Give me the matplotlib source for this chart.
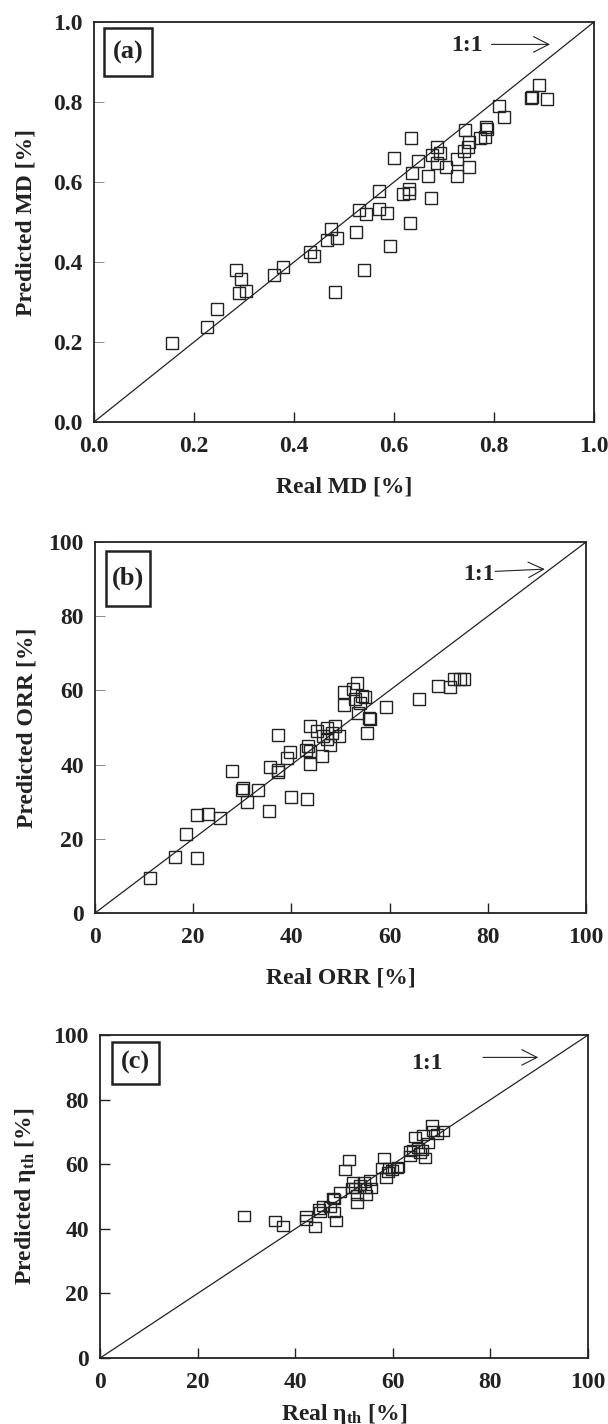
import matplotlib
matplotlib.use("Agg")
import matplotlib.pyplot as plt
from matplotlib.patches import Rectangle
from matplotlib.path import Path

plt.rcParams['font.family'] = ['Liberation Serif', 'DejaVu Serif']
plt.rcParams['font.weight'] = 'bold'
plt.rcParams['mathtext.fontset'] = 'custom'
plt.rcParams['mathtext.rm'] = 'Liberation Serif:bold'
plt.rcParams['mathtext.bf'] = 'Liberation Serif:bold'
plt.rcParams['mathtext.it'] = 'Liberation Serif:bold:italic'

# ---- (a) membrane distillation (MD) ----
md_real = [0.157, 0.225, 0.245, 0.283, 0.293, 0.289, 0.303, 0.360, 0.377, 0.432,
           0.439, 0.473, 0.465, 0.485, 0.481, 0.524, 0.530, 0.544, 0.539, 0.570,
           0.570, 0.585, 0.592, 0.599, 0.633, 0.631, 0.617, 0.630, 0.630, 0.635,
           0.647, 0.667, 0.673, 0.675, 0.685, 0.691, 0.685, 0.704, 0.725, 0.725,
           0.739, 0.741, 0.749, 0.747, 0.750, 0.772, 0.783, 0.785, 0.781, 0.809,
           0.820, 0.876, 0.890, 0.905, 0.874]
md_pred = [0.198, 0.238, 0.282, 0.380, 0.357, 0.322, 0.328, 0.368, 0.388, 0.424,
           0.415, 0.482, 0.455, 0.459, 0.325, 0.476, 0.531, 0.519, 0.380, 0.578,
           0.532, 0.523, 0.440, 0.660, 0.711, 0.498, 0.570, 0.583, 0.572, 0.622,
           0.652, 0.616, 0.559, 0.668, 0.687, 0.672, 0.648, 0.637, 0.616, 0.657,
           0.678, 0.730, 0.701, 0.688, 0.637, 0.709, 0.738, 0.732, 0.713, 0.791,
           0.762, 0.812, 0.843, 0.808, 0.810]

# ---- (b) ORR ----
orr_real = [11.2, 16.2, 20.8, 18.5, 20.8, 23.0, 25.5, 28.0, 30.2, 29.9,
            30.9, 33.1, 35.4, 35.6, 37.2, 37.2, 37.2, 39.2, 39.8, 40.0,
            43.1, 43.8, 43.4, 43.8, 43.8, 43.0, 45.2, 46.3, 47.3, 47.2,
            47.9, 48.9, 49.6, 48.3, 50.7, 50.7, 53.3, 52.6, 54.3, 55.0,
            54.0, 53.5, 55.9, 56.0, 55.3, 59.2, 66.0, 69.8, 72.2, 73.1,
            74.3, 75.2, 46.5, 53.0]
orr_pred = [9.3, 15.2, 14.7, 21.4, 26.4, 26.7, 25.6, 38.2, 33.8, 33.2,
            29.9, 33.2, 27.5, 39.4, 47.9, 37.9, 38.5, 41.8, 43.3, 31.4,
            30.7, 50.3, 45.0, 43.7, 40.3, 44.0, 49.1, 42.2, 50.0, 46.8,
            45.2, 50.4, 47.7, 48.6, 59.6, 56.2, 62.0, 60.3, 58.5, 58.3,
            56.7, 54.0, 52.7, 52.3, 48.4, 55.6, 57.6, 61.2, 60.8, 63.0,
            63.0, 63.0, 47.8, 57.6]

# ---- (c) thermal efficiency ----
eta_real = [29.6, 35.9, 37.5, 42.2, 42.2, 44.1, 44.8, 45.1, 45.6, 47.1,
            48.0, 48.4, 47.7, 48.0, 49.2, 50.2, 51.0, 51.9, 52.2, 52.6,
            52.6, 54.0, 54.3, 54.6, 55.3, 55.5, 53.3, 58.1, 57.8, 58.6,
            59.1, 59.8, 60.8, 61.1, 63.5, 64.1, 64.5, 65.2, 65.9, 66.6,
            66.2, 67.3, 68.1, 68.3, 69.0, 70.3, 63.5, 65.6, 51.6, 59.3]
eta_pred = [44.0, 42.5, 40.8, 44.1, 42.6, 40.6, 46.3, 45.1, 47.2, 46.7,
            45.1, 42.5, 49.5, 49.2, 51.4, 58.1, 61.4, 54.4, 52.6, 50.5,
            48.0, 54.6, 52.6, 50.5, 55.2, 52.6, 53.6, 61.8, 59.0, 55.7,
            57.7, 58.2, 59.0, 59.3, 62.6, 64.4, 68.5, 65.0, 64.4, 61.8,
            69.0, 66.5, 72.1, 70.4, 69.3, 70.4, 64.0, 63.6, 52.6, 58.9]

md_ticks = [0.0, 0.2, 0.4, 0.6, 0.8, 1.0]
pct_ticks = [0, 20, 40, 60, 80, 100]

INK = '#222222'
FS = 17

fig = plt.figure(figsize=(6.08, 14.24), dpi=100)

flat_box = Path([(-0.5, -0.39), (0.5, -0.39), (0.5, 0.39), (-0.5, 0.39), (-0.5, -0.39)],
                [Path.MOVETO, Path.LINETO, Path.LINETO, Path.LINETO, Path.CLOSEPOLY])

panels = [
    dict(rect=[0.1546, 0.70365, 0.8224, 0.2809], x=md_real, y=md_pred, lim=1.0,
         ticks=md_ticks, fmt='{:.1f}', xlabel='Real MD [%]', ylabel='Predicted MD [%]',
         tag='(a)', box=(0.0206, 0.865, 0.0948, 0.121), tagpos=(0.068, 0.925),
         txt=(0.745, 0.9425), arr=((0.795, 0.944), (0.912, 0.944)),
         marker='s', ytick_style=dict(width=0.6, color='#777777'),
         xlab_y=-0.135, ylab_x=-0.114),
    dict(rect=[0.15625, 0.35885, 0.8076, 0.2605], x=orr_real, y=orr_pred, lim=100,
         ticks=pct_ticks, fmt='{:d}', xlabel='Real ORR [%]', ylabel='Predicted ORR [%]',
         tag='(b)', box=(0.0218, 0.828, 0.0902, 0.148), tagpos=(0.0668, 0.902),
         txt=(78.1, 91.3), arr=((81.5, 92.1), (91.6, 92.7)),
         marker='s', ytick_style=dict(width=0.6, color='#777777'),
         xlab_y=-0.148, ylab_x=-0.118),
    dict(rect=[0.1645, 0.0463, 0.8026, 0.2268], x=eta_real, y=eta_pred, lim=100,
         ticks=pct_ticks, fmt='{:d}', xlabel=r'Real η$_{\mathbf{th}}$ [%]',
         ylabel=r'Predicted η$_{\mathbf{th}}$ [%]',
         tag='(c)', box=(0.0252, 0.849, 0.0958, 0.130), tagpos=(0.073, 0.914),
         txt=(66.9, 91.1), arr=((78.5, 93.1), (89.8, 93.1)),
         marker=flat_box, ytick_style=dict(width=1.0, color=INK),
         xlab_y=-0.135, ylab_x=-0.127),
]

for p in panels:
    ax = fig.add_axes(p['rect'])
    lim = p['lim']
    ax.set_xlim(0, lim)
    ax.set_ylim(0, lim)

    # 1:1 reference line
    ax.plot([0, lim], [0, lim], color=INK, lw=0.9, zorder=2)
    ax.plot(p['x'], p['y'], linestyle='none', marker=p['marker'], ms=9,
            mfc='none', mec=INK, mew=1.0, zorder=3)

    ax.set_xticks(p['ticks'])
    ax.set_yticks(p['ticks'])
    ax.set_xticklabels([p['fmt'].format(t) for t in p['ticks']])
    ax.set_yticklabels([p['fmt'].format(t) for t in p['ticks']])
    ax.tick_params(axis='x', direction='in', length=7, width=1.0, color=INK,
                   pad=10, labelsize=FS, labelcolor=INK)
    ax.tick_params(axis='y', direction='in', length=7, pad=8, labelsize=FS,
                   labelcolor=INK, **p['ytick_style'])
    for lab in ax.get_xticklabels() + ax.get_yticklabels():
        lab.set_fontweight('bold')
    for s in ax.spines.values():
        s.set_linewidth(1.3)
        s.set_color(INK)

    ax.set_xlabel(p['xlabel'], fontsize=FS, fontweight='bold', color=INK)
    ax.set_ylabel(p['ylabel'], fontsize=FS, fontweight='bold', color=INK)
    ax.xaxis.set_label_coords(0.5, p['xlab_y'])
    ax.yaxis.set_label_coords(p['ylab_x'], 0.5)

    bx, by, bw, bh = p['box']
    ax.add_patch(Rectangle((bx, by), bw, bh, transform=ax.transAxes, fill=False,
                           lw=1.8, ec=INK, zorder=5))
    ax.text(p['tagpos'][0], p['tagpos'][1], p['tag'], transform=ax.transAxes,
            ha='center', va='center', fontsize=19, fontweight='bold', color=INK, zorder=6)

    ax.text(p['txt'][0], p['txt'][1], '1:1', ha='center', va='center',
            fontsize=FS, fontweight='bold', color=INK)
    (x0, y0), (x1, y1) = p['arr']
    ax.annotate('', xy=(x1, y1), xytext=(x0, y0),
                arrowprops=dict(arrowstyle='->,head_length=0.55,head_width=0.28',
                                lw=0.8, color=INK, mutation_scale=20,
                                shrinkA=0, shrinkB=0))

fig.savefig('out.png', dpi=100)
